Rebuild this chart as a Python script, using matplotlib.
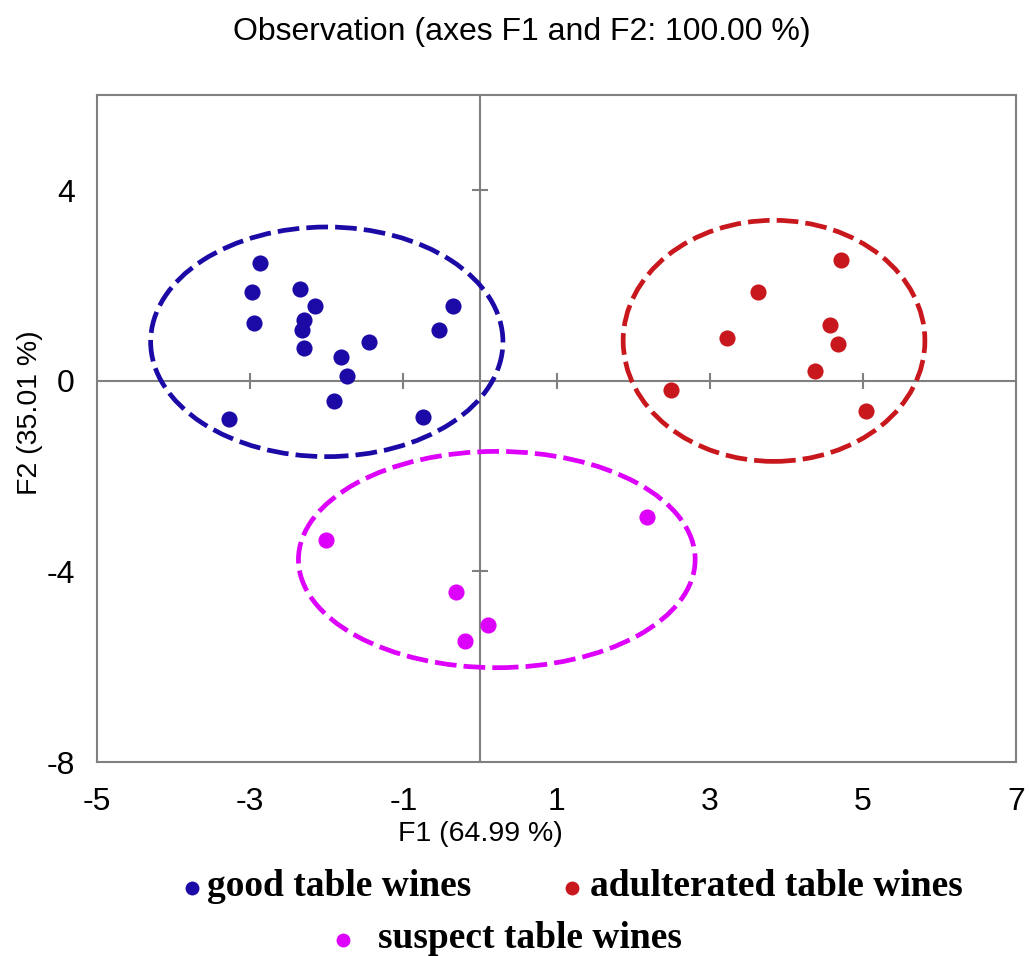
import matplotlib.pyplot as plt
from matplotlib.patches import Ellipse
from matplotlib.lines import Line2D

plt.rcParams['axes.unicode_minus'] = False

# factor scores on F1 / F2
good_f1 = [-2.87, -2.98, -2.95, -2.35, -2.15, -2.30, -2.33, -2.30,
           -1.45, -1.82, -1.73, -1.91, -3.28, -0.75, -0.53, -0.35]
good_f2 = [2.48, 1.86, 1.21, 1.93, 1.57, 1.27, 1.06, 0.68,
           0.82, 0.50, 0.11, -0.43, -0.81, -0.75, 1.06, 1.57]

adult_f1 = [4.72, 3.63, 3.23, 4.57, 4.68, 4.37, 2.49, 5.04]
adult_f2 = [2.54, 1.86, 0.89, 1.18, 0.77, 0.20, -0.19, -0.64]

suspect_f1 = [2.18, -2.01, -0.31, 0.11, -0.19]
suspect_f2 = [-2.86, -3.33, -4.44, -5.12, -5.45]

# group ellipses: centre (f1, f2), full width, full height
ell_good = ((-2.0, 0.82), 4.60, 4.82)
ell_adult = ((3.84, 0.84), 3.94, 5.06)
ell_suspect = ((0.22, -3.75), 5.18, 4.54)

labels = ['good table wines', 'adulterated table wines', 'suspect table wines']
colors = ['#1c0aa6', '#c9181d', '#dd00fb']

xticks = [-5, -3, -1, 1, 3, 5, 7]
yticks = [-8, -4, 0, 4]
grey = '#808080'

fig = plt.figure(figsize=(10.29, 9.56), dpi=100)
ax = fig.add_axes([0.0943, 0.2029, 0.8931, 0.6977])
ax.set_xlim(-5, 7)
ax.set_ylim(-8, 6)

# zero lines with small cross ticks
ax.axhline(0, color=grey, lw=1.5, zorder=1)
ax.axvline(0, color=grey, lw=1.5, zorder=1)
inner_x = [t for t in xticks if t not in (-5, 7)]
inner_y = [-4, 4]
ax.plot(inner_x, [0] * len(inner_x), ls='none', marker='|', ms=12, mew=1.5, color=grey, zorder=1)
ax.plot([0] * len(inner_y), inner_y, ls='none', marker='_', ms=12, mew=1.5, color=grey, zorder=1)

for (c, w, h), col in zip([ell_good, ell_adult, ell_suspect], colors):
    ax.add_patch(Ellipse(c, w, h, fill=False, edgecolor=col, lw=3.4,
                         linestyle=(0, (4.6, 1.5)), zorder=2))

ax.scatter(good_f1, good_f2, s=135, color=colors[0], zorder=3, linewidths=0)
ax.scatter(adult_f1, adult_f2, s=135, color=colors[1], zorder=3, linewidths=0)
ax.scatter(suspect_f1, suspect_f2, s=135, color=colors[2], zorder=3, linewidths=0)

for sp in ax.spines.values():
    sp.set_color(grey)
    sp.set_linewidth(1.5)

ax.set_xticks(xticks)
ax.set_yticks(yticks)
ax.tick_params(axis='x', length=0, pad=18, labelsize=23)
ax.tick_params(axis='y', length=0, pad=16, labelsize=23)
for t in ax.get_xticklabels() + ax.get_yticklabels():
    t.set_family('Liberation Sans')

fig.text(0.507, 0.967, 'Observation (axes F1 and F2: 100.00 %)', ha='center', va='center',
         fontsize=23, family='Liberation Sans')
fig.text(0.467, 0.128, 'F1 (64.99 %)', ha='center', va='center', fontsize=20.5, family='Liberation Sans')
fig.text(0.029, 0.568, 'F2 (35.01 %)', ha='center', va='center', rotation=90,
         fontsize=20.5, family='Liberation Sans')

# legend under the plot
leg_pos = [(192, 888, 207), (572, 888, 590), (343, 940, 378)]
for (mx, my, tx), lab, col in zip(leg_pos, labels, colors):
    fig.add_artist(Line2D([mx / 1029], [1 - my / 956], transform=fig.transFigure,
                          marker='o', ms=10, color=col, mew=0, ls='none'))
    fig.text(tx / 1029, 1 - (my - 2) / 956, lab, ha='left', va='center', fontsize=27,
             family='Liberation Serif', weight='bold')

fig.savefig('out.png', dpi=100)
